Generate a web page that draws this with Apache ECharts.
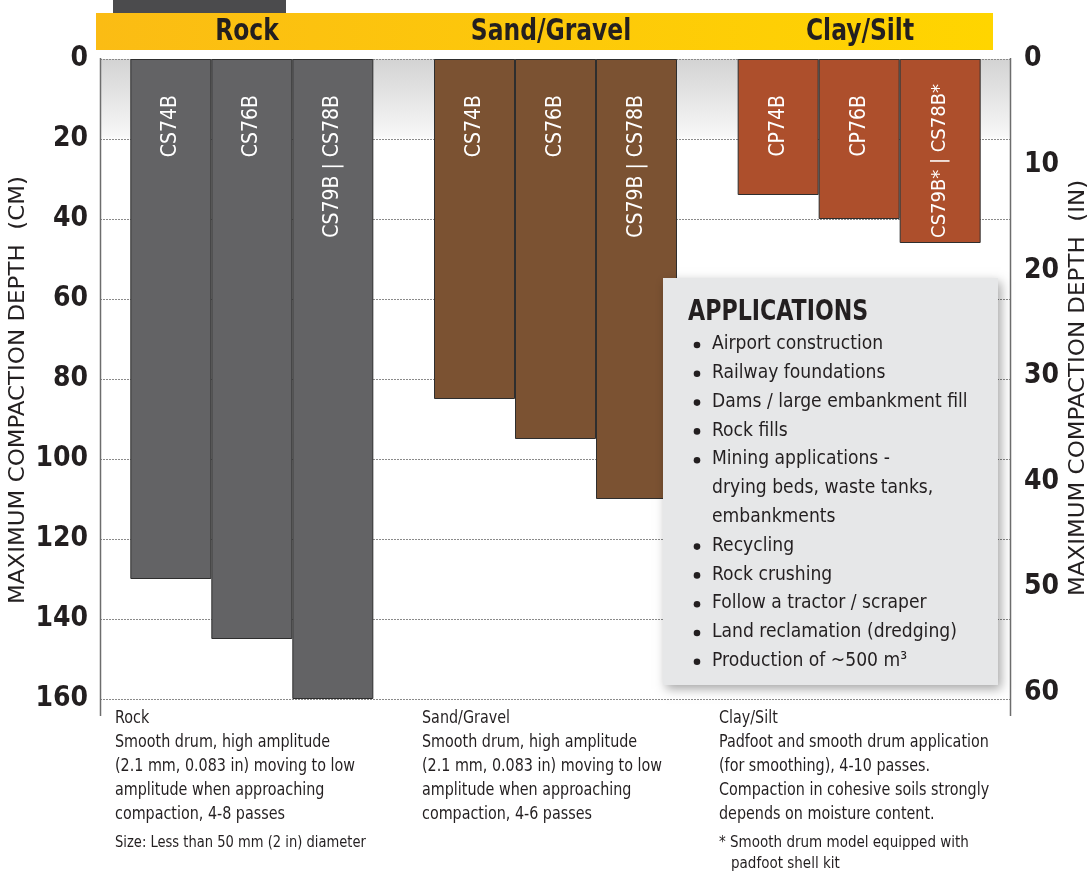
<!DOCTYPE html>
<html>
<head>
<meta charset="utf-8">
<script src="https://cdn.jsdelivr.net/npm/echarts@6/dist/echarts.min.js"></script>
<style>
html,body{margin:0;padding:0;background:#fff;}
#chart{width:1090px;height:873px;}
</style>
</head>
<body>
<div id="chart"></div>
<script>
const categories = ['Rock', 'Sand/Gravel', 'Clay/Silt'];
const depth74 = [130, 85, 34];
const depth76 = [145, 95, 40];
const depth78 = [160, 110, 46];
const labels74 = ['CS74B', 'CS74B', 'CP74B'];
const labels76 = ['CS76B', 'CS76B', 'CP76B'];
const labels78 = ['CS79B | CS78B', 'CS79B | CS78B', 'CS79B* | CS78B*'];
const colors = ['#636365', '#7b5232', '#ad4f2c'];
const leftAxisName = 'MAXIMUM COMPACTION DEPTH  (CM)';
const rightAxisName = 'MAXIMUM COMPACTION DEPTH  (IN)';
const applications = [
  'Airport construction',
  'Railway foundations',
  'Dams / large embankment fill',
  'Rock fills',
  'Mining applications -',
  '   drying beds, waste tanks,',
  '   embankments',
  'Recycling',
  'Rock crushing',
  'Follow a tractor / scraper',
  'Land reclamation (dredging)',
  'Production of ~500 m\u00b3'
];
const notes = [
  ['Rock', 'Smooth drum, high amplitude', '(2.1 mm, 0.083 in) moving to low', 'amplitude when approaching', 'compaction, 4-8 passes'],
  ['Sand/Gravel', 'Smooth drum, high amplitude', '(2.1 mm, 0.083 in) moving to low', 'amplitude when approaching', 'compaction, 4-6 passes'],
  ['Clay/Silt', 'Padfoot and smooth drum application', '(for smoothing), 4-10 passes.', 'Compaction in cohesive soils strongly', 'depends on moisture content.']
];
const rockSizeNote = 'Size: Less than 50 mm (2 in) diameter';
const footnote = ['* Smooth drum model equipped with', 'padfoot shell kit'];

const FF = "'Liberation Sans Narrow','DejaVu Sans Condensed','Roboto Condensed',Roboto,sans-serif";
const DARK = '#231f20';

const chart = echarts.init(document.getElementById('chart'), null, {renderer: 'canvas'});

function mkSeries(name, vals, labels, topDist, sizes) {
  return {
    type: 'bar',
    name: name,
    yAxisIndex: 0,
    barWidth: 81,
    barGap: '0%',
    z: 3,
    data: vals.map((v, i) => ({
      value: v,
      itemStyle: {color: colors[i], borderColor: '#2e2e2e', borderWidth: 1},
      label: {formatter: labels[i], distance: topDist[i], fontSize: sizes[i]}
    })),
    label: {
      show: true,
      position: 'insideTop',
      rotate: 90,
      align: 'right',
      verticalAlign: 'middle',
      overflow: 'none',
      color: '#ffffff',
      fontFamily: FF,
      fontSize: 21
    }
  };
}

const graphics = [];
function txt(x, y, text, font, opts) {
  const o = Object.assign({type: 'text', x: x, y: y, z: 11,
    style: {text: text, font: font + ' ' + FF, fill: DARK, textVerticalAlign: 'middle'}}, opts || {});
  if (opts && opts.align) { o.style.textAlign = opts.align; delete o.align; }
  graphics.push(o);
}
// top dark block
graphics.push({type: 'rect', shape: {x: 113, y: 0, width: 173, height: 14}, style: {fill: '#4b4b4d'}, z: 10});
// yellow banner
graphics.push({type: 'rect', shape: {x: 96, y: 13, width: 897, height: 37},
  style: {fill: new echarts.graphic.LinearGradient(0, 0, 1, 0, [{offset: 0, color: '#fbbc14'}, {offset: 1, color: '#ffd500'}])}, z: 10});
const bannerX = [247, 551, 860];
categories.forEach((c, i) => {
  txt(bannerX[i], 32, c, 'bold 31px', {align: 'center', scaleX: 0.84, z: 11});
});
// plot background gradient at top
graphics.push({type: 'rect', shape: {x: 100, y: 59, width: 911, height: 81},
  style: {fill: new echarts.graphic.LinearGradient(0, 0, 0, 1, [{offset: 0, color: '#d3d3d3'}, {offset: 0.95, color: '#f7f7f7'}, {offset: 1, color: '#ffffff'}])}, z: -5});
// axis lines extended
graphics.push({type: 'line', shape: {x1: 100.5, y1: 58, x2: 100.5, y2: 716}, style: {stroke: '#6d6d6d', lineWidth: 1.5}, z: 12});
graphics.push({type: 'line', shape: {x1: 1010.5, y1: 58, x2: 1010.5, y2: 716}, style: {stroke: '#6d6d6d', lineWidth: 1.5}, z: 12});
// axis names
txt(18, 390, leftAxisName, '22px', {align: 'center', rotation: Math.PI / 2, scaleX: 1.16});
txt(1078, 388, rightAxisName, '22px', {align: 'center', rotation: Math.PI / 2, scaleX: 1.16});
// applications box
graphics.push({type: 'rect', shape: {x: 663, y: 278, width: 335, height: 407},
  style: {fill: '#e6e7e8', shadowBlur: 10, shadowColor: 'rgba(0,0,0,0.35)', shadowOffsetX: 3, shadowOffsetY: 4}, z: 20});
txt(688, 313, 'APPLICATIONS', 'bold 28px', {scaleX: 0.88, z: 21});
applications.forEach((t, i) => {
  const y = 344 + i * 28.8;
  const cont = t.startsWith('   ');
  if (!cont) {
    graphics.push({type: 'circle', shape: {cx: 697, cy: y + 1, r: 3.3}, style: {fill: DARK}, z: 21});
  }
  txt(712, y, t.trim(), '20px', {scaleX: 0.955, z: 21});
});
// bottom notes
const noteX = [115, 422, 719];
notes.forEach((lines, k) => {
  lines.forEach((t, i) => {
    txt(noteX[k], 718 + i * 24, t, '17.5px', {scaleX: 0.91});
  });
});
txt(115, 843, rockSizeNote, '15px', {scaleX: 0.97});
txt(719, 843, footnote[0], '15px');
txt(731, 864, footnote[1], '15px');

const option = {
  animation: false,
  backgroundColor: '#ffffff',
  grid: {left: 100, right: 79, top: 59, bottom: 174, containLabel: false},
  xAxis: {
    type: 'category',
    data: categories,
    axisLine: {show: false},
    axisTick: {show: false},
    axisLabel: {show: false},
    splitLine: {show: false}
  },
  yAxis: [
    {
      type: 'value', inverse: true, min: 0, max: 160, interval: 20,
      axisLine: {show: false}, axisTick: {show: false},
      axisLabel: {color: DARK, fontFamily: FF, fontWeight: 'bold', fontSize: 28, margin: 12},
      splitLine: {show: true, lineStyle: {color: '#8a8a8a', type: [2, 1], width: 1}}
    },
    {
      type: 'value', inverse: true, min: 0, max: 60.6, interval: 10, position: 'right',
      axisLine: {show: false}, axisTick: {show: false},
      axisLabel: {color: DARK, fontFamily: FF, fontWeight: 'bold', fontSize: 28, margin: 13,
        formatter: v => (v % 10 === 0 ? String(v) : '')},
      splitLine: {show: false}
    }
  ],
  series: [
    mkSeries('74', depth74, labels74, [36, 36, 36], [21, 21, 21]),
    mkSeries('76', depth76, labels76, [36, 36, 36], [21, 21, 21]),
    mkSeries('78', depth78, labels78, [36, 36, 25], [21, 21, 20])
  ],
  graphic: {elements: graphics}
};
chart.setOption(option);
</script>
</body>
</html>
